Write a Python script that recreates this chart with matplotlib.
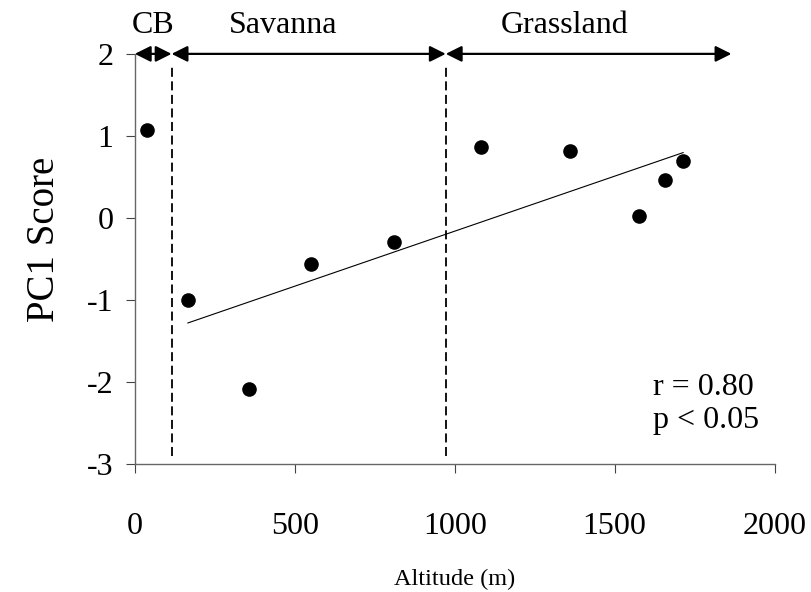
import matplotlib
matplotlib.use('Agg')
import matplotlib.pyplot as plt
import numpy as np

plt.rcParams['font.family'] = ['Liberation Serif', 'DejaVu Serif']
plt.rcParams['axes.unicode_minus'] = False

# altitude (m) and PC1 score for each site
altitude = [39, 166, 357, 552, 810, 1083, 1360, 1575, 1657, 1714]
pc1_score = [1.07, -1.0, -2.08, -0.56, -0.29, 0.86, 0.82, 0.02, 0.46, 0.69]

# zone limits along the top of the plot
zone_names = ['CB', 'Savanna', 'Grassland']
zone_limits = [(0, 115), (115, 972), (972, 1865)]
zone_label_x = [56, 463, 1343]
boundaries = [115, 972]

fig = plt.figure(figsize=(8.12, 5.92), dpi=100)
ax = fig.add_axes([0.166, 0.216, 0.788, 0.693])

ax.scatter(altitude, pc1_score, s=90, c='black', zorder=3)

# regression line (without the CB site)
coef = np.polyfit(altitude[1:], pc1_score[1:], 1)
xs = np.array([altitude[1], altitude[-1]])
ax.plot(xs, np.polyval(coef, xs), c='black', lw=0.8)

for b in boundaries:
    ax.plot([b, b], [-2.9, 1.88], c='black', lw=1.3, ls=(0, (5, 2.5)))

for name, (a, b), lx in zip(zone_names, zone_limits, zone_label_x):
    ax.annotate('', xy=(b, 2), xytext=(a, 2),
                arrowprops=dict(arrowstyle='<|-|>', color='black', lw=1.6,
                                mutation_scale=24, shrinkA=0, shrinkB=0),
                annotation_clip=False)
    ax.text(lx, 2.34, name, ha='center', va='center', fontsize=23)

ax.text(1620, -2.27, 'r = 0.80\np < 0.05', ha='left', va='center',
        fontsize=23, linespacing=1.2)

ax.set_xlim(0, 2000)
ax.set_ylim(-3, 2)
ax.set_xticks([0, 500, 1000, 1500, 2000])
ax.set_yticks([-3, -2, -1, 0, 1, 2])
ax.spines['top'].set_visible(False)
ax.spines['right'].set_visible(False)
for s in ['left', 'bottom']:
    ax.spines[s].set_color('#666666')
    ax.spines[s].set_linewidth(1.0)
ax.tick_params(axis='both', direction='out', length=6.5, color='#444444',
               labelsize=23)
ax.tick_params(axis='x', pad=28)
ax.tick_params(axis='y', pad=9)

ax.set_xlabel('Altitude (m)', fontsize=17.5, labelpad=20)
fig.text(0.055, 0.595, 'PC1 Score', rotation=90, ha='center', va='center',
         fontsize=28)

fig.savefig('out.png', dpi=100)
